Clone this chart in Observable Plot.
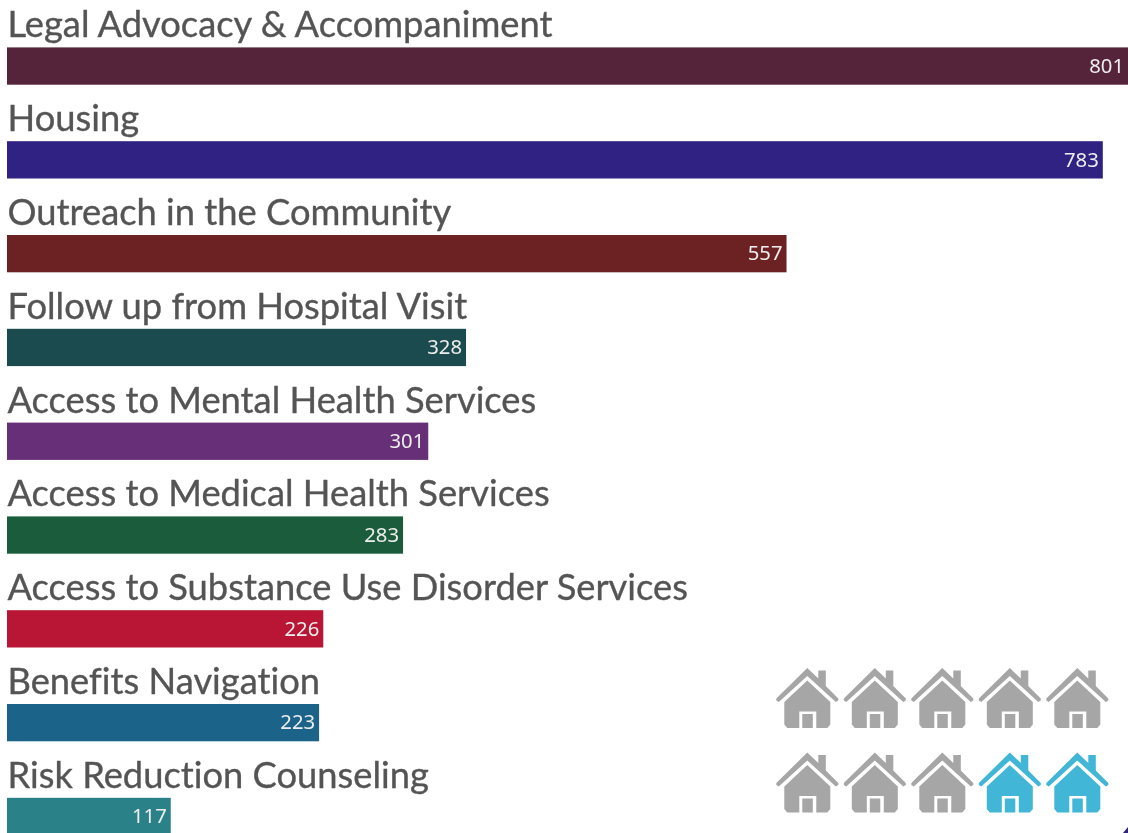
<!DOCTYPE html>
<html>
<head>
<meta charset="utf-8">
<script src="https://cdn.jsdelivr.net/npm/d3@7"></script>
<script src="https://cdn.jsdelivr.net/npm/@observablehq/plot@0.6"></script>
<style>
html,body{margin:0;padding:0;background:#fff;overflow:hidden;width:1128px;height:833px}
#chart{position:relative;width:1128px;height:833px;overflow:hidden}
#chart svg{position:absolute;display:block;filter:blur(0.45px)}
#chart svg text{font-variant-ligatures:none}
#corner{position:absolute;left:1123px;top:827px;width:5px;height:6px;background:#2f2282;clip-path:polygon(100% 0,100% 100%,0 100%)}
</style>
</head>
<body>
<div id="chart"><div id="corner"></div></div>
<script>
const categories = ["Legal Advocacy & Accompaniment","Housing","Outreach in the Community","Follow up from Hospital Visit","Access to Mental Health Services","Access to Medical Health Services","Access to Substance Use Disorder Services","Benefits Navigation","Risk Reduction Counseling"];
const counts = [801,783,557,328,301,283,226,223,117];
const barColors = ["#55233a","#2f2282","#6c2222","#1b4b4e","#672f77","#1a5c3c","#b81634","#1b6389","#2a8288"];
const rows = categories.map((name,i)=>({name,count:counts[i]}));

const houseCols = [0,1,2,3,4];
const houseRows = [0,1];
const highlighted = [false,false,false,false,false,false,false,false,true,true];
const houses = houseRows.flatMap((r,ri)=>houseCols.map((c,ci)=>({c,r,kind:highlighted[ri*5+ci]?"Reached":"Other"})));

// House glyph in a 32-unit radius box
const houseSymbol = {draw(ctx,size){
  const k = Math.sqrt(size/Math.PI)/32;
  const poly = pts=>{pts.forEach(([x,y],i)=>i?ctx.lineTo(x*k,y*k):ctx.moveTo(x*k,y*k));ctx.closePath();};
  poly([[0,-30.5],[11,-20],[11,-28],[18.5,-28],[18.5,-12.5],[31,0],[31,2],[28.5,3.5],[0,-22.5],[-28.5,3.5],[-31,2],[-31,0]]);
  poly([[0,-18],[23,3.5],[23,26],[20,29.5],[9,29.5],[9,13],[-8,13],[-8,29.5],[-20,29.5],[-23,26],[-23,3.5]]);
  poly([[-5,15.5],[5.5,15.5],[5.5,29.5],[-5,29.5]]);
}};

const main = Plot.plot({
  width:1128,height:833,margin:0,
  style:{background:"transparent",overflow:"hidden"},
  x:{domain:[0,801],range:[7,1128],axis:null},
  y:{domain:categories,range:[-0.6,843.6],padding:0,round:false,axis:null},
  color:{domain:categories,range:barColors},
  marks:[
    Plot.barX(rows,{x:"count",y:"name",fill:"name",insetTop:48,insetBottom:8.5}),
    Plot.text(rows,{x:()=>0,y:"name",text:"name",textAnchor:"start",dy:-21,fontSize:36.3,fill:"#545454",stroke:"#545454",strokeWidth:0.35,fontFamily:"Lato"}),
    Plot.text(rows,{x:"count",y:"name",text:d=>String(d.count),textAnchor:"end",dx:-4.5,dy:19.5,fontSize:20.3,fill:"#eeeeee",fontFamily:"Noto Sans"})
  ]
});
const icons = Plot.plot({
  width:368,height:183,margin:0,
  style:{background:"transparent",left:"760px",top:"650px"},
  x:{domain:[0,4],range:[46.8,316.8],axis:null},
  y:{domain:[0,1],range:[48,132.5],axis:null},
  color:{domain:["Other","Reached"],range:["#a6a6a6","#41b6d6"]},
  marks:[Plot.dot(houses,{x:"c",y:"r",fill:"kind",symbol:houseSymbol,r:32})]
});
const root=document.getElementById("chart");
root.append(main,icons);
</script>
</body>
</html>
